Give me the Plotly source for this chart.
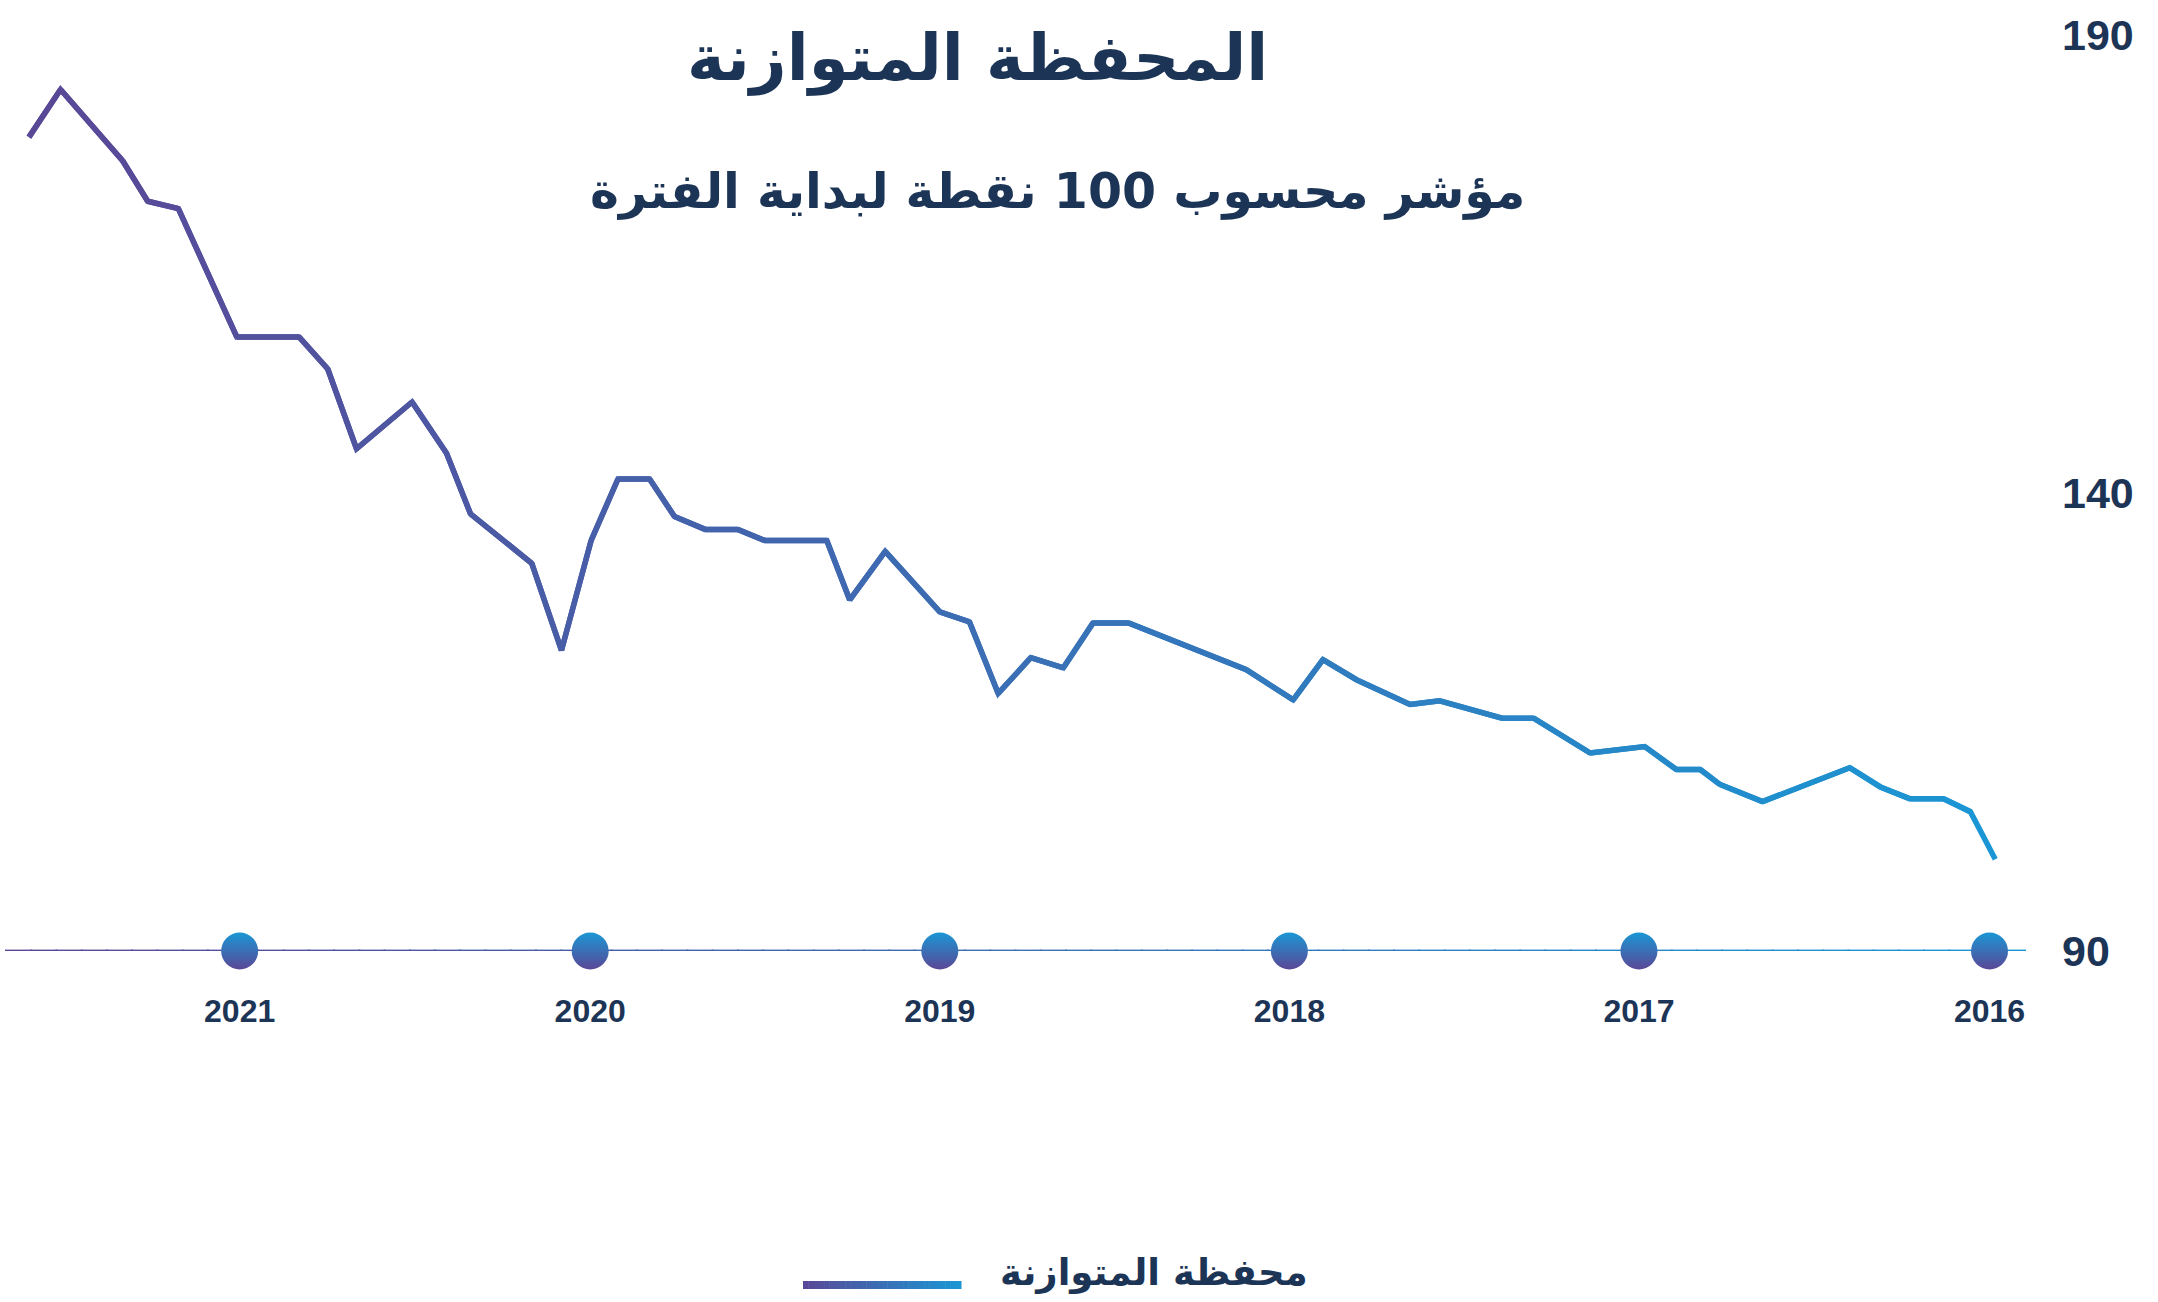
import plotly.graph_objects as go
import pandas as pd

# ---------------- data ----------------
dates = [
    '2015-12-26', '2016-01-21', '2016-02-18', '2016-03-24', '2016-04-24', '2016-05-26',
    '2016-08-25', '2016-10-09', '2016-10-29', '2016-11-23', '2016-12-26',
    '2017-02-21', '2017-04-21', '2017-05-24', '2017-07-28', '2017-08-28', '2017-10-23',
    '2017-11-27', '2017-12-28',
    '2018-02-15', '2018-06-18', '2018-07-25', '2018-08-25', '2018-09-28', '2018-11-01',
    '2018-12-01',
    '2019-01-01', '2019-02-27', '2019-04-05', '2019-04-29', '2019-07-03', '2019-07-31',
    '2019-09-03', '2019-10-05', '2019-10-31', '2019-12-03', '2019-12-31',
    '2020-01-31', '2020-03-02', '2020-05-05', '2020-05-30', '2020-07-05', '2020-09-01',
    '2020-10-01', '2020-10-31',
    '2021-01-04', '2021-03-06', '2021-04-07', '2021-05-03', '2021-07-07', '2021-08-09',
]
values = [
    100.0, 105.2, 106.6, 106.6, 107.9, 110.0,
    106.3, 108.2, 109.8, 109.8, 112.3,
    111.6, 115.4, 115.4, 117.3, 116.9, 119.6, 121.8, 117.4,
    120.7, 125.8, 125.8, 120.9, 122.0, 118.1, 125.9,
    127.0, 133.6, 128.3, 134.8, 134.8, 136.0, 136.0, 137.4, 141.5, 141.5, 134.8,
    122.8, 132.3, 137.7, 144.3, 149.9, 144.8, 153.5, 157.0,
    157.0, 171.0, 171.8, 176.2, 184.0, 178.8,
]
year_dates = ['2016-01-01', '2017-01-01', '2018-01-01', '2019-01-01', '2020-01-01', '2021-01-01']
year_labels = ['2016', '2017', '2018', '2019', '2020', '2021']
y_ticks = [90, 140, 190]
y_tick_labels = ['90', '140', '190']

title_text = 'المحفظة المتوازنة'
subtitle_text = 'مؤشر محسوب 100 نقطة لبداية الفترة'
series_name = 'محفظة المتوازنة'

# ---------------- style ----------------
W, H = 2158, 1302
ML, MR, MT, MB = 5, 134, 34, 351
PW, PH = W - ML - MR, H - MT - MB
NAVY = '#1c3455'
PURPLE = (90, 71, 150)
BLUE = (26, 151, 212)
AR_FONT = 'DejaVu Sans'
NUM_FONT = 'Liberation Sans Narrow, Liberation Sans, Arial'


def mix(c0, c1, t):
    return 'rgb(%d,%d,%d)' % tuple(round(a + (b - a) * t) for a, b in zip(c0, c1))


def px_x(px):
    return (px - ML) / PW


def px_y(py):
    return (H - MB - py) / PH


fig = go.Figure()

# gradient line: each piece covers two segments so joins stay continuous
ts = pd.to_datetime(dates)
t0, t1 = ts.min(), ts.max()
n = len(dates)
for i in range(n - 1):
    j = min(i + 3, n)
    frac = ((ts[i] - t0) / (t1 - t0) + (ts[i + 1] - t0) / (t1 - t0)) / 2
    fig.add_trace(go.Scatter(
        x=dates[i:j], y=values[i:j], mode='lines',
        line=dict(color=mix(BLUE, PURPLE, frac), width=5.5),
        hoverinfo='skip', showlegend=False,
    ))

# year markers on the baseline
fig.add_trace(go.Scatter(
    x=year_dates, y=[y_ticks[0]] * len(year_dates), mode='markers',
    marker=dict(size=37, color='rgb(%d,%d,%d)' % BLUE,
                gradient=dict(type='vertical', color='rgb(%d,%d,%d)' % PURPLE),
                line=dict(width=0)),
    cliponaxis=False, hoverinfo='skip', showlegend=False,
))

# gradient baseline
N_SEG = 80
for k in range(N_SEG):
    fig.add_shape(type='line', xref='paper', yref='y',
                  x0=k / N_SEG, x1=(k + 1) / N_SEG + 0.001, y0=y_ticks[0], y1=y_ticks[0],
                  line=dict(color=mix(PURPLE, BLUE, (k + 0.5) / N_SEG), width=2.8),
                  layer='below')

# legend swatch (gradient) + label
LX0, LX1, LY = 803, 961, 1285
N_LEG = 30
for k in range(N_LEG):
    fig.add_shape(type='line', xref='paper', yref='paper',
                  x0=px_x(LX0 + (LX1 - LX0) * k / N_LEG),
                  x1=px_x(LX0 + (LX1 - LX0) * (k + 1) / N_LEG + 0.5),
                  y0=px_y(LY), y1=px_y(LY),
                  line=dict(color=mix(PURPLE, BLUE, (k + 0.5) / N_LEG), width=8))
fig.add_annotation(x=px_x(1154), y=px_y(1272), xref='paper', yref='paper',
                   text=series_name, showarrow=False, xanchor='center', yanchor='middle',
                   font=dict(family=AR_FONT, size=37, color=NAVY, weight='bold'))

# titles
fig.add_annotation(x=px_x(977), y=px_y(58), xref='paper', yref='paper',
                   text=title_text, showarrow=False, xanchor='center', yanchor='middle',
                   font=dict(family=AR_FONT, size=64, color=NAVY, weight='bold'))
fig.add_annotation(x=px_x(1057), y=px_y(191), xref='paper', yref='paper',
                   text=subtitle_text, showarrow=False, xanchor='center', yanchor='middle',
                   font=dict(family=AR_FONT, size=49, color=NAVY, weight='bold'))

fig.update_layout(
    width=W, height=H,
    margin=dict(l=ML, r=MR, t=MT, b=MB),
    paper_bgcolor='white', plot_bgcolor='white',
    showlegend=False,
    xaxis=dict(type='date', range=['2021-09-03', '2015-11-26'],
               tickvals=year_dates, ticktext=year_labels,
               showgrid=False, zeroline=False, showline=False, ticks='',
               ticklabelstandoff=38,
               tickfont=dict(family=NUM_FONT, size=32, color=NAVY, weight='bold')),
    yaxis=dict(side='right', range=[y_ticks[0], y_ticks[-1] + 0.05],
               tickvals=y_ticks, ticktext=y_tick_labels,
               showgrid=False, zeroline=False, showline=False, ticks='',
               ticklabelstandoff=37,
               tickfont=dict(family=NUM_FONT, size=43, color=NAVY, weight='bold')),
)

fig.write_html('out.html', config={'displayModeBar': False},
               post_script="document.body.style.margin='0';")
